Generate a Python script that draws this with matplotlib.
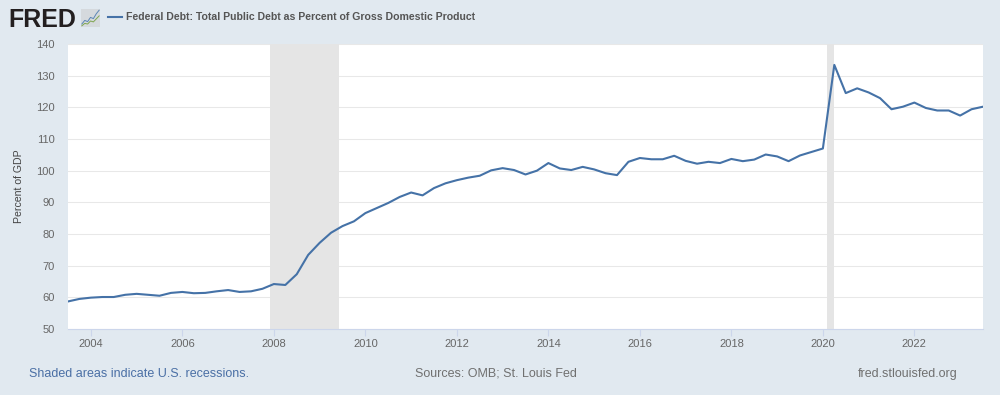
import numpy as np
import matplotlib
matplotlib.use('Agg')
import matplotlib.pyplot as plt

plt.rcParams['font.family'] = ['Liberation Sans', 'DejaVu Sans']

# Quarterly values, 2003 Q3 to 2023 Q3
years = 2003.5 + np.arange(81) * 0.25
debt = [58.7, 59.5,
        59.9, 60.1, 60.1, 60.8,
        61.1, 60.8, 60.5, 61.4,
        61.7, 61.3, 61.4, 61.9,
        62.3, 61.7, 61.9, 62.7,
        64.2, 63.9, 67.3, 73.4,
        77.2, 80.4, 82.5, 84.0,
        86.6, 88.2, 89.8, 91.7,
        93.1, 92.2, 94.5, 96.0,
        97.0, 97.8, 98.4, 100.1,
        100.8, 100.2, 98.8, 100.0,
        102.4, 100.7, 100.2, 101.2,
        100.4, 99.2, 98.6, 102.8,
        104.0, 103.6, 103.6, 104.7,
        103.1, 102.2, 102.8, 102.4,
        103.7, 103.0, 103.5, 105.1,
        104.5, 103.0, 104.8, 105.9,
        107.0, 133.4, 124.5, 126.0,
        124.7, 122.9, 119.4, 120.2,
        121.5, 119.8, 119.0, 119.0,
        117.4, 119.4, 120.2]
recessions = [(2007.92, 2009.42), (2020.08, 2020.25)]
x_ticks = list(range(2004, 2024, 2))
y_ticks = list(range(50, 150, 10))

title = 'Federal Debt: Total Public Debt as Percent of Gross Domestic Product'
y_label = 'Percent of GDP'
note_left = 'Shaded areas indicate U.S. recessions.'
note_mid = 'Sources: OMB; St. Louis Fed'
note_right = 'fred.stlouisfed.org'

# little chart in the logo
logo_x = [0, 1, 2, 3, 4, 5, 6]
logo_blue = [1.0, 2.2, 1.8, 3.2, 2.8, 4.4, 5.6]
logo_green = [0.4, 1.2, 1.0, 2.0, 1.7, 2.7, 3.7]

BG = '#e1e9f0'
LINE = '#4572a7'
W, H = 1000, 395

fig = plt.figure(figsize=(W / 100, H / 100), dpi=100, facecolor=BG)
ax = fig.add_axes([68 / W, 1 - 329 / H, 915 / W, 285 / H], facecolor='white')

for start, end in recessions:
    ax.axvspan(start, end, color='#e5e5e5', lw=0, zorder=1)
ax.plot(years, debt, color=LINE, lw=1.5, zorder=3, solid_joinstyle='round')

ax.set_xlim(2003.5, 2023.5)
ax.set_ylim(50, 140)
ax.set_xticks(x_ticks)
ax.set_yticks(y_ticks)
ax.grid(axis='y', color='#e8e8e8', lw=0.75)
ax.set_axisbelow(True)
for side in ['top', 'right', 'left']:
    ax.spines[side].set_visible(False)
ax.spines['bottom'].set_color('#ccd6eb')
ax.spines['bottom'].set_linewidth(0.8)
ax.tick_params(axis='x', length=5, width=0.8, color='#ccd6eb', labelsize=8, labelcolor='#666666', pad=2)
ax.tick_params(axis='y', length=0, labelsize=8, labelcolor='#666666', pad=9.5)
ax.set_ylabel(y_label, fontsize=7.6, color='#444444')
ax.yaxis.set_label_coords((24 - 68) / 915, 0.5)

# header
fig.text(8 / W, 1 - 27 / H, 'FRED', fontsize=18, fontweight='bold', color='#231f20', va='baseline', ha='left')
icon = fig.add_axes([81 / W, 1 - 27 / H, 19 / W, 18 / H], facecolor='#d5d9dd')
icon.plot(logo_x, logo_blue, color='#5b86b5', lw=0.7)
icon.plot(logo_x, logo_green, color='#7fa650', lw=0.7)
icon.set_xlim(-0.3, 6.3)
icon.set_ylim(0, 6)
icon.set_xticks([])
icon.set_yticks([])
for side in icon.spines:
    icon.spines[side].set_visible(False)
fig.add_artist(plt.Line2D([108 / W, 122 / W], [1 - 17 / H, 1 - 17 / H], color=LINE, lw=1.5))
fig.text(126 / W, 1 - 17 / H, title, fontsize=7.6, fontweight='bold', color='#555555', va='center', ha='left')

# footer
fig.text(29 / W, 1 - 377 / H, note_left, fontsize=9.0, color='#4a6fa5', va='baseline', ha='left')
fig.text(495.5 / W, 1 - 377 / H, note_mid, fontsize=9.0, color='#707070', va='baseline', ha='center')
fig.text(958 / W, 1 - 377 / H, note_right, fontsize=9.0, color='#707070', va='baseline', ha='right')

fig.savefig('out.png', dpi=100, facecolor=BG)
